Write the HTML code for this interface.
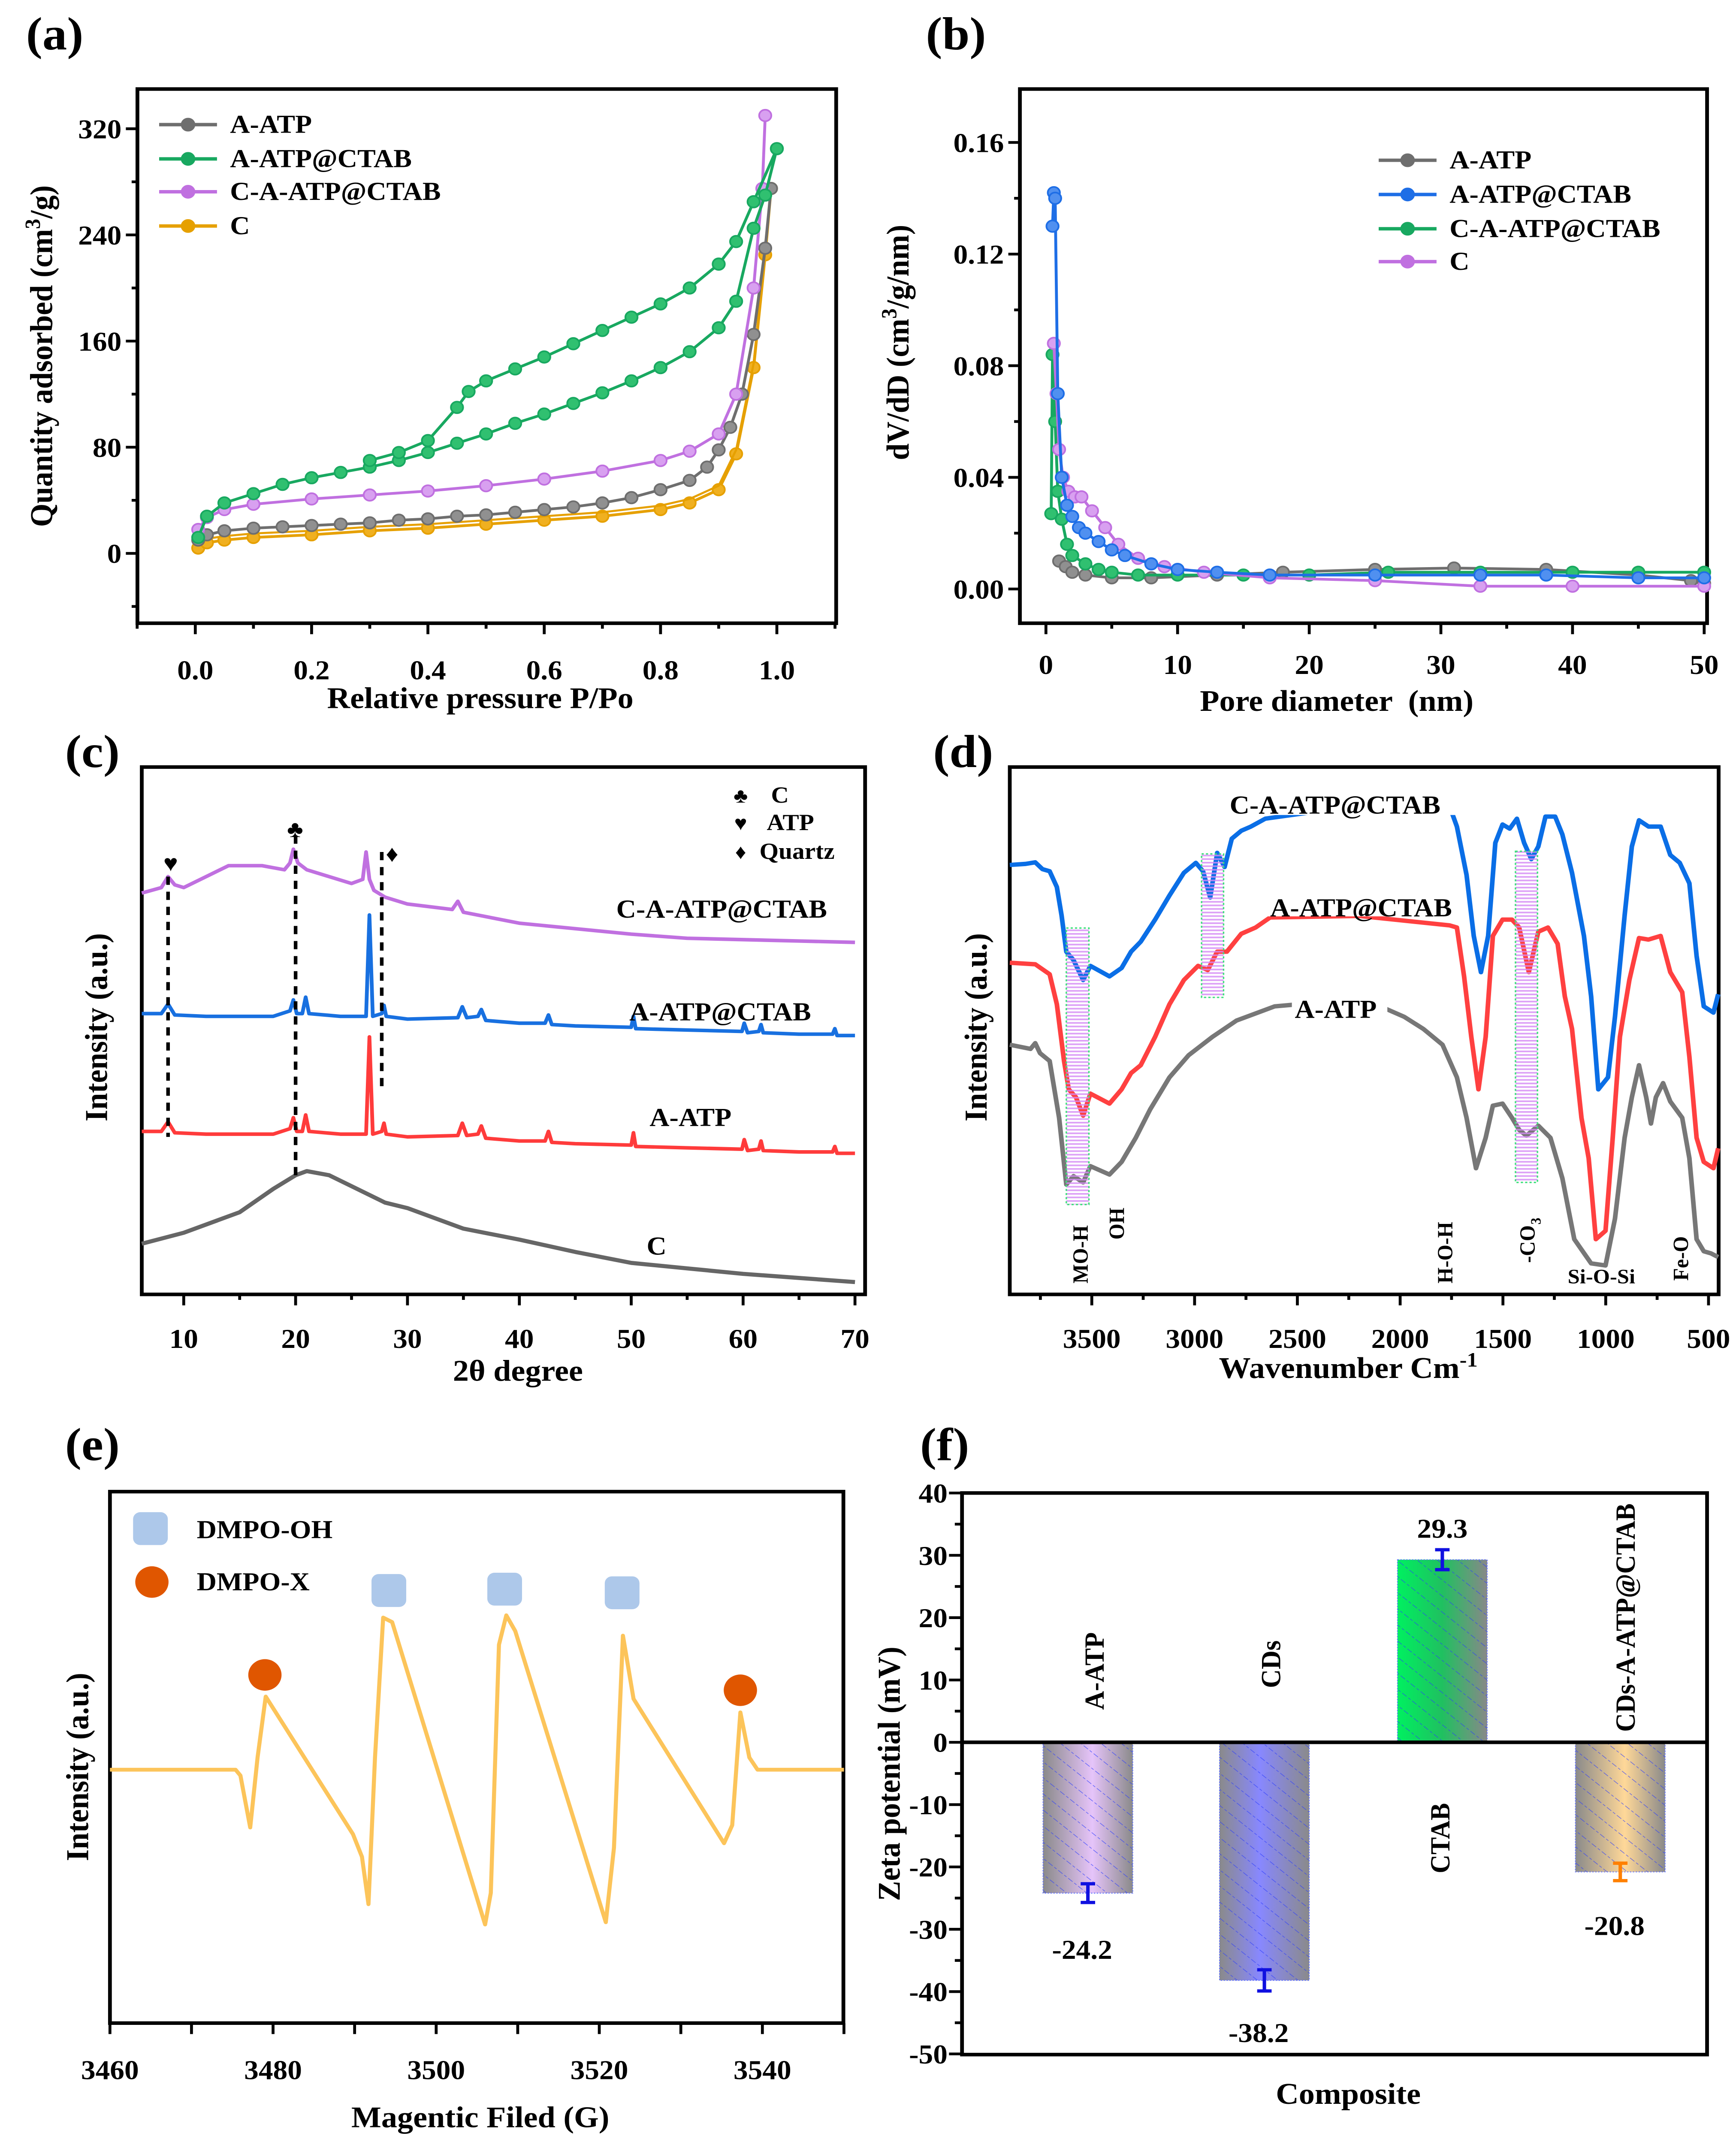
<!DOCTYPE html>
<html><head><meta charset="utf-8"><title>Figure</title>
<style>
html,body{margin:0;padding:0;background:#fff;width:100%;height:100%;overflow:hidden}
svg{display:block;position:absolute;left:0;top:0;width:100vw;height:100vh}
text{font-family:"Liberation Serif",serif;font-weight:bold;fill:#000}
</style></head>
<body>
<svg id="fig" xmlns="http://www.w3.org/2000/svg" viewBox="0 0 1200 1566" preserveAspectRatio="none" overflow="hidden">
<defs>
<pattern id="hatchF" patternUnits="userSpaceOnUse" width="9" height="9" patternTransform="rotate(-50)"><line x1="0" y1="0" x2="0" y2="9" stroke="#2a3cff" stroke-width="0.8" stroke-dasharray="2,1.5" opacity="0.75"/></pattern>
<pattern id="hatchD" patternUnits="userSpaceOnUse" width="4" height="2.6"><line x1="0" y1="0.6" x2="4" y2="0.6" stroke="#d58af5" stroke-width="1.2"/></pattern>
<linearGradient id="gA" x1="0" x2="1" y1="0" y2="0"><stop offset="0" stop-color="#8a8a8a"/><stop offset="0.55" stop-color="#e6c4fa"/><stop offset="1" stop-color="#8a8a8a"/></linearGradient>
<linearGradient id="gB" x1="0" x2="1" y1="0" y2="0"><stop offset="0" stop-color="#8a8a8a"/><stop offset="0.45" stop-color="#8888ff"/><stop offset="1" stop-color="#8a8a8a"/></linearGradient>
<linearGradient id="gC" x1="0" x2="1" y1="0" y2="0"><stop offset="0" stop-color="#00f060"/><stop offset="0.5" stop-color="#20c060"/><stop offset="1" stop-color="#888888"/></linearGradient>
<linearGradient id="gD" x1="0" x2="1" y1="0" y2="0"><stop offset="0" stop-color="#8a8a8a"/><stop offset="0.55" stop-color="#ffd898"/><stop offset="1" stop-color="#8a8a8a"/></linearGradient>
</defs>
<rect x="0" y="0" width="1200" height="1566" fill="#fff"/>

<text x="18" y="36" font-size="34">(a)</text>
<text x="640" y="36" font-size="34">(b)</text>
<text x="45" y="560" font-size="34">(c)</text>
<text x="645" y="560" font-size="34">(d)</text>
<text x="45" y="1066" font-size="34">(e)</text>
<text x="636" y="1066" font-size="34">(f)</text>

<text transform="translate(36,260) rotate(-90)" text-anchor="middle" font-size="22">Quantity adsorbed (cm<tspan baseline-shift="super" font-size="15">3</tspan>/g)</text>
<text x="332" y="517" text-anchor="middle" font-size="22">Relative pressure P/Po</text>
<text transform="translate(628,250) rotate(-90)" text-anchor="middle" font-size="22">dV/dD (cm<tspan baseline-shift="super" font-size="15">3</tspan>/g/nm)</text>
<text x="924" y="519" text-anchor="middle" font-size="22" xml:space="preserve">Pore diameter  (nm)</text>
<text transform="translate(74,750) rotate(-90)" text-anchor="middle" font-size="22">Intensity (a.u.)</text>
<text x="358" y="1008" text-anchor="middle" font-size="22">2θ degree</text>
<text transform="translate(682,750) rotate(-90)" text-anchor="middle" font-size="22">Intensity (a.u.)</text>
<text x="932" y="1006" text-anchor="middle" font-size="22">Wavenumber Cm<tspan baseline-shift="super" font-size="15">-1</tspan></text>
<text transform="translate(61,1290) rotate(-90)" text-anchor="middle" font-size="22">Intensity (a.u.)</text>
<text x="332" y="1553" text-anchor="middle" font-size="22">Magentic Filed (G)</text>
<text transform="translate(622,1295) rotate(-90)" text-anchor="middle" font-size="22">Zeta potential (mV)</text>
<text x="932" y="1536" text-anchor="middle" font-size="22">Composite</text>
</svg>
<script>
// ---------- panel (a) data ----------
const aP_ATP=[0.005,0.02,0.05,0.1,0.15,0.2,0.25,0.3,0.35,0.4,0.45,0.5,0.55,0.6,0.65,0.7,0.75,0.8,0.85,0.88,0.9,0.92,0.94,0.96,0.98,0.99];
const aV_ATP=[10,14,17,19,20,21,22,23,25,26,28,29,31,33,35,38,42,48,55,65,78,95,120,165,230,275];
const aP_CTABads=[0.005,0.02,0.05,0.1,0.15,0.2,0.25,0.3,0.35,0.4,0.45,0.5,0.55,0.6,0.65,0.7,0.75,0.8,0.85,0.9,0.93,0.96,0.98,1.0];
const aV_CTABads=[12,28,38,45,52,57,61,65,70,76,83,90,98,105,113,121,130,140,152,170,190,245,270,305];
const aP_CTABdes=[1.0,0.96,0.93,0.9,0.85,0.8,0.75,0.7,0.65,0.6,0.55,0.5,0.47,0.45,0.4,0.35,0.3];
const aV_CTABdes=[305,265,235,218,200,188,178,168,158,148,139,130,122,110,85,76,70];
const aP_CA=[0.005,0.02,0.05,0.1,0.2,0.3,0.4,0.5,0.6,0.7,0.8,0.85,0.9,0.93,0.96,0.975,0.98];
const aV_CA=[18,27,33,37,41,44,47,51,56,62,70,77,90,120,200,275,330];
const aP_C=[0.005,0.02,0.05,0.1,0.2,0.3,0.4,0.5,0.6,0.7,0.8,0.85,0.9,0.93,0.96,0.98,0.99];
const aV_C=[4,8,10,12,14,17,19,22,25,28,33,38,48,75,140,225,275];
const aXTicks=[0,0.2,0.4,0.6,0.8,1.0];
const aXLabels=["0.0","0.2","0.4","0.6","0.8","1.0"];
const aYTicks=[0,80,160,240,320];

// ---------- panel (b) data ----------
const bD_ATP=[1,1.5,2,3,5,8,13,18,25,31,38,45,49,50];
const bV_ATP=[0.01,0.008,0.006,0.005,0.004,0.004,0.005,0.006,0.007,0.0075,0.007,0.005,0.003,0.002];
const bD_CTAB=[0.5,0.6,0.7,0.9,1.2,1.6,2,2.5,3,4,5,6,8,10,13,17,25,33,38,45,50];
const bV_CTAB=[0.13,0.142,0.14,0.07,0.04,0.03,0.026,0.022,0.02,0.017,0.014,0.012,0.009,0.007,0.006,0.005,0.005,0.005,0.005,0.004,0.004];
const bD_CA=[0.4,0.5,0.7,0.9,1.2,1.6,2,3,4,5,7,10,15,20,26,33,40,45,50];
const bV_CA=[0.027,0.084,0.06,0.035,0.025,0.016,0.012,0.009,0.007,0.006,0.005,0.005,0.005,0.005,0.006,0.006,0.006,0.006,0.006];
const bD_C=[0.6,0.8,1,1.3,1.7,2.2,2.7,3.5,4.5,5.5,7,9,12,17,25,33,40,50];
const bV_C=[0.088,0.07,0.05,0.04,0.035,0.033,0.033,0.028,0.022,0.016,0.011,0.008,0.006,0.004,0.003,0.001,0.001,0.001];
const bXTicks=[0,10,20,30,40,50];
const bYTicks=[0,0.04,0.08,0.12,0.16];
const bYLabels=["0.00","0.04","0.08","0.12","0.16"];

// ---------- panel (c) data ----------
const cTheta_C=[6.25,10,15,18,20,21,23,25,28,30,35,40,45,50,55,60,65,70];
const cI_C=[37,45,60,77,87,90,87,79,67,63,48,40,31,23,19,15,12,9];
const cTheta_ATP=[6.25,8,8.6,9.2,12,15,18,19.5,19.8,20.1,20.6,20.9,21.2,24,26.3,26.6,26.9,27.7,27.9,28.1,30,34.5,34.9,35.3,36.3,36.6,37,40,42.3,42.6,42.9,45,50,50.2,50.4,55,59.9,60.1,60.4,61.4,61.6,61.8,65,68,68.2,68.4,70];
const cI_ATP=[119,119,126,118,117,117,117,121,129,119,119,131,119,117,117,188,117,119,125,117,115,116,125,116,117,123,114,112,112,119,111,110,109,118,108,107,106,113,105,106,112,105,104,104,108,103,103];
const cI_CTAB=[205,205,212,204,203,203,203,207,215,205,205,217,205,203,203,277,203,205,211,203,201,202,210,202,203,208,200,198,198,204,197,196,195,203,194,193,192,198,191,192,197,191,190,190,194,189,189];
const cTheta_CA=[6.25,8,8.6,9.2,10,12,14,17,19,19.5,19.8,20.2,21,23,25,26,26.3,26.6,27,28,30,34,34.5,35,40,45,50,55,60,65,70];
const cI_CA=[293,297,305,299,297,305,313,313,310,315,325,315,310,305,300,303,323,303,295,290,285,281,287,279,271,267,263,260,259,258,257];
const cXTicks=[10,20,30,40,50,60,70];

// ---------- panel (d) data ----------
const dWn_ATP=[3899,3798,3775,3752,3705,3659,3624,3589,3542,3507,3414,3355,3286,3216,3122,3029,2913,2796,2610,2493,2300,2097,1980,1887,1794,1724,1677,1631,1584,1549,1502,1456,1421,1386,1328,1269,1211,1153,1071,1001,955,908,873,838,803,780,756,721,686,628,593,558,523,488,453];
const dT_ATP=[47.5,46.7,47.8,45.9,44.4,33.6,20.9,22.5,21.3,24.4,22.8,25.2,29.8,35.2,41.3,45.5,49,52.1,54.8,55.2,56,54.8,52.8,50.5,47.5,41.3,33.6,24,29.8,35.9,36.3,33.6,31.3,30.2,32.1,29.8,22.1,10.5,5.9,5.5,14.4,29.8,37.5,43.6,37.5,32.5,37.5,40.2,36.7,33.6,25.9,10.5,8.2,7.8,7.1];
const dWn_CTAB=[3899,3775,3705,3670,3635,3612,3577,3542,3507,3414,3355,3309,3262,3192,3122,3052,2983,2936,2890,2843,2773,2703,2633,2200,1759,1724,1689,1654,1619,1584,1549,1502,1456,1421,1374,1328,1281,1234,1199,1164,1118,1083,1048,1001,966,931,885,838,792,733,686,628,593,558,523,476,453];
const dT_CTAB=[63.1,62.8,60.9,55.2,44.4,39,37.5,34,38.2,36.3,39,42.1,43.6,49,55.2,59.8,62.5,61.7,65.2,65.2,68.6,69.8,71.7,72,70.2,69.8,60.5,49,39,49,68.2,71.3,71.3,69.8,61.3,69,69.8,66.7,56.7,50.5,33.6,25.9,10.5,12.1,29.8,49,59.8,67.8,67.5,68.2,61.3,57.5,45.2,29.8,25.2,24,27.8];
const dWn_CA=[3899,3822,3775,3740,3705,3670,3647,3624,3589,3542,3507,3414,3355,3309,3262,3192,3122,3052,2994,2959,2924,2890,2854,2819,2773,2726,2656,2200,1759,1724,1677,1642,1607,1572,1537,1502,1467,1432,1397,1362,1328,1293,1246,1211,1164,1106,1071,1036,989,955,908,873,838,792,733,686,640,593,558,523,476,453];
const dT_CA=[81.7,81.9,82.2,80.9,80.5,77.5,72.1,65.2,63.6,59.8,62.5,60.5,62.1,65.2,67.1,71.3,75.9,80.2,82.1,80.5,75.5,84,81.3,86.7,88.2,89,90.5,93,92.8,89,79.8,68.2,61.3,68.2,85.9,89.4,88.6,90.5,85.9,82.8,85.2,90.9,90.9,87.5,80.2,68.2,56.7,39,41.3,52.8,72.1,85.2,90.2,89,89,83.6,82.1,78.2,64.4,54.8,53.6,57.1];
const dBandFrom=[3624,2966,1439];
const dBandTo=[3514,2859,1332];
const dBandTopT=[69.7,83.8,84.3];
const dBandBotT=[17.1,56.5,21.3];
const dXTicks=[3500,3000,2500,2000,1500,1000,500];

// ---------- panel (e) data ----------
const eField=[3460,3475.4,3476.0,3477.2,3478.1,3479.1,3489.8,3490.9,3491.7,3492.5,3493.5,3494.6,3506.0,3506.7,3507.7,3508.6,3509.7,3520.8,3521.8,3522.9,3524.2,3535.3,3536.3,3537.3,3538.4,3539.4,3550];
const eInt=[0,0,-1.3,-12.8,2.7,16.2,-14.3,-19.3,-29.8,2.7,33.7,32.7,-34.3,-27.3,27.7,34.2,30.7,-33.8,-17.3,29.7,15.7,-16.3,-12.3,12.7,2.7,0,0];
const eOHField=[3494.2,3508.4,3522.8];
const eOHInt=[39.7,40,39.2];
const eXField=[3479,3537.3];
const eXInt=[21,17.6];
const eXTicks=[3460,3480,3500,3520,3540];

// ---------- panel (f) data ----------
const fCats=["A-ATP","CDs","CTAB","CDs-A-ATP@CTAB"];
const fVals=[-24.2,-38.2,29.3,-20.8];
const fErr=[1.5,1.7,1.6,1.4];
const fValLabels=["-24.2","-38.2","29.3","-20.8"];
const fYTicks=[-50,-40,-30,-20,-10,0,10,20,30,40];

const NS="http://www.w3.org/2000/svg";
const svg=document.getElementById('fig');
function el(tag,attrs,parent){const e=document.createElementNS(NS,tag);for(const k in attrs)e.setAttribute(k,attrs[k]);(parent||svg).appendChild(e);return e;}
function lin(d0,d1,r0,r1){return v=>r0+(v-d0)*(r1-r0)/(d1-d0);}
function frame(x0,y0,x1,y1,name){
  const r=el('rect',{x:x0,y:y0,width:x1-x0,height:y1-y0,fill:'none',stroke:'#000','stroke-width':2.6});
  
  
}
function tickLine(x1,y1,x2,y2,name){
  const t=el('line',{x1:x1,y1:y1,x2:x2,y2:y2,stroke:'#000','stroke-width':2});
  
  
}
function label(x,y,txt,anchor,size,name,extra){
  const t=el('text',Object.assign({x:x,y:y,'text-anchor':anchor||'middle','font-size':size||20},extra||{}));
  t.textContent=txt;
  
  
  return t;
}
function series(xs,ys,sx,sy,color,width,name,markers,mcolor){
  const pts=xs.map((x,i)=>sx(x).toFixed(2)+','+sy(ys[i]).toFixed(2)).join(' ');
  const g=el('g',{});
  
  
  const p=el('polyline',{points:pts,fill:'none',stroke:color,'stroke-width':width,'stroke-linejoin':'round'},g);
  
  
  if(markers){xs.forEach((x,i)=>{
    const c=el('circle',{cx:sx(x),cy:sy(ys[i]),r:4.2,fill:mcolor||color,stroke:color,'stroke-width':1.2},g);
    
    
  });}
  return g;
}
function legendEntry(x,y,color,txt,name){
  const l=el('line',{x1:x,y1:y,x2:x+40,y2:y,stroke:color,'stroke-width':2.5});
  
  
  const c=el('circle',{cx:x+20,cy:y,r:4.5,fill:color,stroke:color});
  
  
  label(x+49,y+6,txt,'start',19,name);
}

// ================= PANEL A =================
const sxA=lin(0,1,135,537), syA=lin(0,320,404,94);
frame(95,65,578,455,'a-plot-frame');
for(let v=-0.1;v<=1.101;v+=0.1){const x=sxA(v);const major=Math.abs(Math.round(v*10)%2)===0;tickLine(x,455,x,455+(major?8:4),'a-x-tick');}
aXTicks.forEach((v,i)=>label(sxA(v),496,aXLabels[i],'middle',20,'a-x-tick-label'));
for(let v=-40;v<=340;v+=40){const y=syA(v);const major=v%80===0;tickLine(95,y,95-(major?8:4),y,'a-y-tick');}
aYTicks.forEach(v=>label(84,syA(v)+7,String(v),'end',20,'a-y-tick-label'));
series(aP_C,aV_C,sxA,syA,'#e6a000',2,'a-series-c',true,'#f0b020');
series(aP_C,aV_C.map(v=>v+3),sxA,syA,'#e6a000',1.5,'a-series-c-desorption',false);
series(aP_ATP,aV_ATP,sxA,syA,'#6e6e6e',2,'a-series-a-atp',true,'#909090');
series(aP_CA,aV_CA,sxA,syA,'#c070e0',2,'a-series-c-a-atp-ctab',true,'#d8a0f0');
series(aP_CTABads,aV_CTABads,sxA,syA,'#18a860',2,'a-series-a-atp-ctab-adsorption',true,'#30c070');
series(aP_CTABdes,aV_CTABdes,sxA,syA,'#18a860',2,'a-series-a-atp-ctab-desorption',true,'#30c070');
legendEntry(110,91,'#6e6e6e','A-ATP','a-legend-a-atp');
legendEntry(110,116,'#18a860','A-ATP@CTAB','a-legend-a-atp-ctab');
legendEntry(110,140,'#c070e0','C-A-ATP@CTAB','a-legend-c-a-atp-ctab');
legendEntry(110,165,'#e6a000','C','a-legend-c');

// ================= PANEL B =================
const sxB=lin(0,50,723,1178), syB=lin(0,0.16,430,104);
frame(705,65,1180,455,'b-plot-frame');
for(let v=0;v<=50;v+=5){const x=sxB(v);tickLine(x,455,x,455+(v%10===0?8:4),'b-x-tick');}
bXTicks.forEach(v=>label(sxB(v),492,String(v),'middle',20,'b-x-tick-label'));
for(let v=0;v<=0.161;v+=0.02){const y=syB(v);const major=Math.round(v*100)%4===0;tickLine(705,y,705-(major?8:4),y,'b-y-tick');}
bYTicks.forEach((v,i)=>label(694,syB(v)+7,bYLabels[i],'end',20,'b-y-tick-label'));
series(bD_ATP,bV_ATP,sxB,syB,'#6e6e6e',2,'b-series-a-atp',true,'#909090');
series(bD_CA,bV_CA,sxB,syB,'#18a860',2,'b-series-c-a-atp-ctab',true,'#30c070');
series(bD_C,bV_C,sxB,syB,'#c070e0',2,'b-series-c',true,'#d8a0f0');
series(bD_CTAB,bV_CTAB,sxB,syB,'#1e6ee6',2,'b-series-a-atp-ctab',true,'#5090f0');
legendEntry(953,117,'#6e6e6e','A-ATP','b-legend-a-atp');
legendEntry(953,142,'#1e6ee6','A-ATP@CTAB','b-legend-a-atp-ctab');
legendEntry(953,167,'#18a860','C-A-ATP@CTAB','b-legend-c-a-atp-ctab');
legendEntry(953,191,'#c070e0','C','b-legend-c');

// ================= PANEL C =================
const sxC=lin(10,70,127,591), syC=v=>945-v;
frame(98,560,598,945,'c-plot-frame');
for(let v=10;v<=70;v+=5){const x=sxC(v);tickLine(x,945,x,945+(v%10===0?8:4),'c-x-tick');}
cXTicks.forEach(v=>label(sxC(v),984,String(v),'middle',20,'c-x-tick-label'));
series(cTheta_C,cI_C,sxC,syC,'#666666',3,'c-series-c',false);
series(cTheta_ATP,cI_ATP,sxC,syC,'#ff3b3b',2.6,'c-series-a-atp',false);
series(cTheta_ATP,cI_CTAB,sxC,syC,'#1870e0',2.6,'c-series-a-atp-ctab',false);
series(cTheta_CA,cI_CA,sxC,syC,'#c070e0',2.6,'c-series-c-a-atp-ctab',false);
[[8.6,640,830],[20,610,860],[27.7,622,795]].forEach(d=>{
  const l=el('line',{x1:sxC(d[0]),y1:d[1],x2:sxC(d[0]),y2:d[2],stroke:'#000','stroke-width':2.5,'stroke-dasharray':'6,5'});
  
  
});
label(118,636,'♥','middle',17,'c-symbol-atp');
label(204,611,'♣','middle',17,'c-symbol-c');
label(271,629,'♦','middle',17,'c-symbol-quartz');
label(512,586,'♣','middle',15,'c-legend-c-symbol');label(533,586,'C','start',17,'c-legend-c');
label(512,606,'♥','middle',15,'c-legend-atp-symbol');label(530,606,'ATP','start',17,'c-legend-atp');
label(512,627,'♦','middle',15,'c-legend-quartz-symbol');label(525,627,'Quartz','start',17,'c-legend-quartz');
label(426,670,'C-A-ATP@CTAB','start',19,'c-label-c-a-atp-ctab');
label(435,745,'A-ATP@CTAB','start',19,'c-label-a-atp-ctab');
label(449,822,'A-ATP','start',19,'c-label-a-atp');
label(447,916,'C','start',19,'c-label-c');

// ================= PANEL D =================
const sxD=lin(3500,500,754.7,1181), syD=t=>945-3.8376*t;
frame(698,560,1188,945,'d-plot-frame');
for(let v=3750;v>=500;v-=250){const x=sxD(v);tickLine(x,945,x,945+(v%500===0?8:4),'d-x-tick');}
dXTicks.forEach(v=>label(sxD(v),984,String(v),'middle',20,'d-x-tick-label'));
series(dWn_ATP,dT_ATP,sxD,syD,'#777777',3.2,'d-series-a-atp',false);
series(dWn_CTAB,dT_CTAB,sxD,syD,'#ff4040',3.2,'d-series-a-atp-ctab',false);
series(dWn_CA,dT_CA,sxD,syD,'#0a6ee6',3.2,'d-series-c-a-atp-ctab',false);
dBandFrom.forEach((w,i)=>{
  const x0=sxD(w),x1=sxD(dBandTo[i]),y0=syD(dBandTopT[i]),y1=syD(dBandBotT[i]);
  const r=el('rect',{x:x0,y:y0,width:x1-x0,height:y1-y0,fill:'url(#hatchD)','fill-opacity':0.8,stroke:'#3ce07a','stroke-width':1,'stroke-dasharray':'1.5,1.5'});
  
  
});
[[848,573,160,'d-label-bg-1'],[876,647,130,'d-label-bg-2'],[893,722,66,'d-label-bg-3']].forEach(b=>{
  const r=el('rect',{x:b[0],y:b[1],width:b[2],height:22,fill:'#fff'});
  
  
});
label(850,594,'C-A-ATP@CTAB','start',19,'d-label-c-a-atp-ctab');
label(878,669,'A-ATP@CTAB','start',19,'d-label-a-atp-ctab');
label(895,743,'A-ATP','start',19,'d-label-a-atp');
label(0,0,'MO-H','start',15,'d-band-label-mo-h',{transform:'translate(752,937) rotate(-90)'});
label(0,0,'OH','start',15,'d-band-label-oh',{transform:'translate(777,905) rotate(-90)'});
label(0,0,'H-O-H','start',15,'d-band-label-h-o-h',{transform:'translate(1004,937) rotate(-90)'});
label(0,0,'-CO','start',15,'d-band-label-co3',{transform:'translate(1061,922) rotate(-90)'});
label(0,0,'3','start',10,'d-band-label-co3-sub',{transform:'translate(1065,894) rotate(-90)'});
label(1107,937,'Si-O-Si','middle',15,'d-band-label-si-o-si');
label(0,0,'Fe-O','start',15,'d-band-label-fe-o',{transform:'translate(1167,935) rotate(-90)'});

// ================= PANEL E =================
const sxE=lin(3460,3540,76,527), syE=v=>1292-3.295*v;
frame(76,1089,583,1477,'e-plot-frame');
for(let v=3460;v<=3550;v+=5){const x=sxE(v);tickLine(x,1477,x,1477+(v%10===0?8:0),'e-x-tick');}
eXTicks.forEach(v=>label(sxE(v),1518,String(v),'middle',20,'e-x-tick-label'));
series(eField,eInt,sxE,syE,'#fcc45a',2.8,'e-series-epr',false);
eOHField.forEach((f,i)=>{
  const cx=sxE(f),cy=syE(eOHInt[i]);
  const r=el('rect',{x:cx-12,y:cy-12,width:24,height:24,rx:5,fill:'#adc8ea'});
  
  
});
eXField.forEach((f,i)=>{
  const c=el('circle',{cx:sxE(f),cy:syE(eXInt[i]),r:11.5,fill:'#e05600'});
  
  
});
{const r=el('rect',{x:92,y:1104,width:24,height:24,rx:5,fill:'#adc8ea'});


const c=el('circle',{cx:105,cy:1155,r:11.5,fill:'#e05600'});

}
label(136,1123,'DMPO-OH','start',19,'e-legend-dmpo-oh');
label(136,1161,'DMPO-X','start',19,'e-legend-dmpo-x');

// ================= PANEL F =================
const syF=lin(0,40,1272,1090);
const fCenters=[752,874,997,1120];
frame(665,1090,1180,1500,'f-plot-frame');
for(let v=-50;v<=40;v+=5){const y=syF(v);tickLine(665,y,665-(v%10===0?9:5),y,'f-y-tick');}
fYTicks.forEach(v=>label(655,syF(v)+7,String(v),'end',20,'f-y-tick-label'));
const fGrads=['url(#gA)','url(#gB)','url(#gC)','url(#gD)'];
const fErrCol=['#1010e0','#1010e0','#1010e0','#ff8000'];
fVals.forEach((v,i)=>{
  const x=fCenters[i]-31,y0=Math.min(syF(0),syF(v)),h=Math.abs(syF(v)-syF(0));
  const b=el('rect',{x:x,y:y0,width:62,height:h,fill:fGrads[i]});
  
  
  const hb=el('rect',{x:x,y:y0,width:62,height:h,fill:'url(#hatchF)',stroke:'#6070ff','stroke-width':0.6,'stroke-dasharray':'1,1'});
  
  
  const c=fCenters[i],ya=syF(v-fErr[i]),yb=syF(v+fErr[i]);
  const g=el('path',{d:`M${c},${ya}V${yb}M${c-5},${ya}H${c+5}M${c-5},${yb}H${c+5}`,stroke:fErrCol[i],'stroke-width':2.4,fill:'none'});
  
  
});
{const z=el('line',{x1:665,y1:syF(0),x2:1180,y2:syF(0),stroke:'#000','stroke-width':2.6});

}
const fLabelY=[syF(-24.2)+48,syF(-38.2)+45,syF(29.3)-16,syF(-20.8)+46];
fValLabels.forEach((t,i)=>label(fCenters[i]-4+(i===2?4:0),fLabelY[i],t,'middle',20,'f-value-label'));
label(0,0,fCats[0],'middle',19,'f-category-label-a-atp',{transform:'translate(763,1220) rotate(-90)'});
label(0,0,fCats[1],'middle',19,'f-category-label-cds',{transform:'translate(885,1215) rotate(-90)'});
label(0,0,fCats[2],'middle',19,'f-category-label-ctab',{transform:'translate(1002,1342) rotate(-90)'});
label(0,0,fCats[3],'middle',19,'f-category-label-cds-a-atp-ctab',{transform:'translate(1130,1181) rotate(-90)'});
</script>
</body></html>
